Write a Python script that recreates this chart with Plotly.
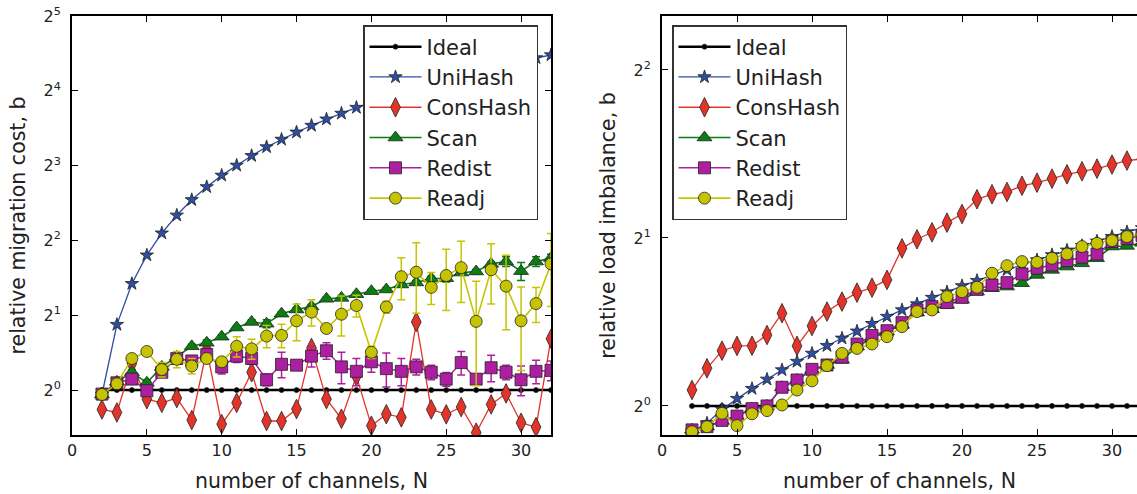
import plotly.graph_objects as go

# ---------------- data ----------------
N = list(range(2, 33))

# left panel: relative migration cost
mig_ideal = [1.0] * 31
mig_unihash = [0.96, 1.835, 2.68, 3.49, 4.28, 5.05, 5.83, 6.57, 7.31, 8.02, 8.77, 9.51, 10.2, 10.9, 11.6,
               12.3, 12.98, 13.7, 14.4, 15.1, 15.8, 16.5, 17.2, 17.9, 18.5, 19.2, 19.9, 20.5, 21.1, 21.7, 22.3]
mig_conshash = [0.836, 0.813, 1.28, 0.92, 0.889, 0.929, 0.758, 1.45, 0.73, 0.889, 1.18, 0.751, 0.751, 0.839,
                1.478, 0.92, 0.767, 1.138, 0.719, 0.80, 0.777, 1.88, 0.836, 0.799, 0.855, 0.674, 0.876, 0.97,
                0.739, 0.71, 1.61]
mig_scan = [0.96, 1.08, 1.18, 1.07, 1.24, 1.36, 1.50, 1.55, 1.64, 1.785, 1.88, 1.85, 2.03, 2.11, 2.17, 2.33,
            2.35, 2.43, 2.50, 2.54, 2.66, 2.71, 2.81, 2.82, 2.97, 3.00, 3.22, 3.29, 3.01, 3.29, 3.40]
mig_scan_err = [0.01, 0.02, 0.03, 0.03, 0.03, 0.04, 0.03, 0.04, 0.03, 0.03, 0.04, 0.07, 0.03, 0.04, 0.04, 0.04,
                0.05, 0.04, 0.04, 0.04, 0.05, 0.05, 0.06, 0.10, 0.05, 0.06, 0.06, 0.15, 0.25, 0.15, 0.12]
mig_redist = [0.964, 1.07, 1.107, 0.994, 1.18, 1.34, 1.31, 1.39, 1.24, 1.37, 1.34, 1.10, 1.27, 1.26, 1.37, 1.44,
              1.24, 1.19, 1.30, 1.22, 1.19, 1.24, 1.18, 1.107, 1.29, 1.107, 1.23, 1.18, 1.10, 1.19, 1.20]
mig_redist_err = [0.02, 0.03, 0.04, 0.03, 0.05, 0.05, 0.06, 0.08, 0.08, 0.08, 0.07, 0.06, 0.15, 0.04, 0.13, 0.11,
                  0.18, 0.15, 0.12, 0.19, 0.15, 0.09, 0.08, 0.07, 0.14, 0.05, 0.15, 0.08, 0.15, 0.13, 0.11]
mig_readj = [0.96, 1.06, 1.34, 1.43, 1.21, 1.33, 1.25, 1.34, 1.30, 1.50, 1.465, 1.65, 1.66, 1.90, 2.06, 1.77,
             2.02, 2.19, 1.42, 2.16, 2.86, 2.98, 2.59, 2.89, 3.11, 1.89, 3.05, 2.62, 1.90, 2.23, 3.22]
mig_readj_err = [0.01, 0.02, 0.03, 0.03, 0.08, 0.10, 0.09, 0.05, 0.05, 0.14, 0.135, 0.17, 0.18, 0.32, 0.25, 0.05,
                 0.37, 0.22, 0.08, 0.12, 0.55, 0.94, 0.38, 0.80, 0.86, 0.85, 0.83, 0.87, 0.70, 0.36, 1.05]

# right panel: relative load imbalance
imb_ideal = [1.0] * 31
imb_unihash = [0.90, 0.931, 0.986, 1.031, 1.074, 1.116, 1.16, 1.201, 1.242, 1.282, 1.322, 1.361, 1.404, 1.446,
               1.486, 1.523, 1.564, 1.60, 1.641, 1.677, 1.712, 1.753, 1.791, 1.826, 1.865, 1.901, 1.937, 1.973,
               2.011, 2.05, 2.085]
imb_conshash = [1.068, 1.168, 1.256, 1.281, 1.282, 1.34, 1.466, 1.281, 1.391, 1.476, 1.538, 1.596, 1.629, 1.682,
                1.916, 1.989, 2.047, 2.13, 2.208, 2.346, 2.395, 2.418, 2.48, 2.512, 2.554, 2.60, 2.633, 2.662,
                2.707, 2.752, 2.77]
imb_scan = [0.906, 0.918, 0.94, 0.958, 0.988, 1.0, 1.08, 1.113, 1.16, 1.184, 1.209, 1.277, 1.322, 1.359, 1.397,
            1.47, 1.49, 1.517, 1.549, 1.602, 1.625, 1.636, 1.659, 1.717, 1.753, 1.777, 1.801, 1.839, 1.93, 1.935,
            1.96]
imb_redist = [0.906, 0.918, 0.942, 0.959, 0.989, 1.0, 1.08, 1.113, 1.163, 1.184, 1.223, 1.291, 1.337, 1.364,
              1.41, 1.486, 1.506, 1.532, 1.566, 1.618, 1.647, 1.663, 1.724, 1.765, 1.789, 1.821, 1.847, 1.872,
              1.97, 1.994, 2.02]
imb_readj = [0.899, 0.918, 0.97, 0.922, 0.968, 0.981, 1.004, 1.068, 1.109, 1.181, 1.242, 1.268, 1.291, 1.331,
             1.387, 1.476, 1.486, 1.57, 1.602, 1.632, 1.729, 1.784, 1.814, 1.809, 1.839, 1.872, 1.93, 1.956,
             1.978, 2.011, 2.03]

x_ticks = [0, 5, 10, 15, 20, 25, 30]
left_yticks = [1, 2, 4, 8, 16, 32]
left_yticktext = ["2<sup>0</sup>", "2<sup>1</sup>", "2<sup>2</sup>", "2<sup>3</sup>", "2<sup>4</sup>", "2<sup>5</sup>"]
right_yticks = [1, 2, 4]
right_yticktext = ["2<sup>0</sup>", "2<sup>1</sup>", "2<sup>2</sup>"]

# ---------------- styles ----------------
FONT = "DejaVu Sans"
styles = {
    "Ideal":    dict(color="#000000", symbol="circle", size=5, lw=2.5),
    "UniHash":  dict(color="#2e4ea3", symbol="star", size=10, lw=1.3),
    "ConsHash": dict(color="#e3342a", symbol="diamond-tall", size=14, lw=1.3),
    "Scan":     dict(color="#0b7d12", symbol="triangle-up", size=13, lw=1.6),
    "Redist":   dict(color="#ad1fa0", symbol="square", size=12, lw=1.5),
    "Readj":    dict(color="#c6c400", symbol="circle", size=12, lw=1.6),
}

fig = go.Figure()


def add(name, x, y, err, xa, ya, legend, show):
    s = styles[name]
    kw = {}
    if err is not None:
        kw["error_y"] = dict(type="data", array=err, visible=True, color=s["color"],
                             thickness=1.5, width=4)
    fig.add_trace(go.Scatter(
        x=x, y=y, name=name, mode="lines+markers",
        line=dict(color=s["color"], width=s["lw"]),
        marker=dict(symbol=s["symbol"], size=s["size"], color=s["color"],
                    line=dict(color="#222222", width=0.8)),
        xaxis=xa, yaxis=ya, legend=legend, legendgroup=legend + name, showlegend=show,
        **kw))


left = [("Ideal", mig_ideal, None), ("UniHash", mig_unihash, None), ("ConsHash", mig_conshash, None),
        ("Scan", mig_scan, mig_scan_err), ("Redist", mig_redist, mig_redist_err),
        ("Readj", mig_readj, mig_readj_err)]
right = [("Ideal", imb_ideal, None), ("UniHash", imb_unihash, None), ("ConsHash", imb_conshash, None),
         ("Scan", imb_scan, None), ("Redist", imb_redist, None), ("Readj", imb_readj, None)]

for name, y, e in left:
    add(name, N, y, e, "x", "y", "legend", True)
for name, y, e in right:
    add(name, N, y, e, "x2", "y2", "legend2", True)

W, H = 1137, 494
ML, MR, MT, MB = 72, 0, 16, 59
PW = W - ML - MR
PH = H - MT - MB
left_dom = [0, (551 - ML) / PW]
right_dom = [(662 - ML) / PW, 1.0]

LOG2 = 0.30103
axis_common = dict(showline=True, linecolor="black", linewidth=2, ticks="inside", ticklen=6,
                   tickwidth=1.3, tickcolor="black", showgrid=False, zeroline=False,
                   tickfont=dict(family=FONT, size=16, color="#222222"))
TF = dict(family=FONT, size=20.5, color="#222222")

legend_common = dict(xanchor="left", yanchor="top", bgcolor="white", bordercolor="#333333",
                     borderwidth=1.5, tracegroupgap=0, itemwidth=52,
                     font=dict(family=FONT, size=21, color="#222222"))

fig.update_layout(
    width=W, height=H, margin=dict(l=ML, r=MR, t=MT, b=MB),
    paper_bgcolor="white", plot_bgcolor="white",
    font=dict(family=FONT, size=20, color="#222222"),
    xaxis=dict(domain=left_dom, range=[0, 32], tickvals=x_ticks, mirror="ticks", anchor="y",
               title=dict(text="number of channels, N", font=TF, standoff=14), **axis_common),
    yaxis=dict(domain=[0, 1], type="log", range=[-0.6 * LOG2, 5 * LOG2], tickvals=left_yticks,
               ticktext=left_yticktext, mirror="ticks", anchor="x", ticklabelstandoff=6,
               title=dict(text="relative migration cost, b", font=TF, standoff=12), **axis_common),
    xaxis2=dict(domain=right_dom, range=[0, 31.667], tickvals=x_ticks, mirror="ticks", anchor="y2",
                title=dict(text="number of channels, N", font=TF, standoff=14), **axis_common),
    yaxis2=dict(domain=[0, 1], type="log", range=[-0.173 * LOG2, 2.321 * LOG2], tickvals=right_yticks,
                ticktext=right_yticktext, mirror=False, anchor="x2", ticklabelstandoff=6,
                title=dict(text="relative load imbalance, b", font=TF, standoff=12), **axis_common),
    legend=dict(x=(363 - ML) / PW, y=(435 - 25) / PH, **legend_common),
    legend2=dict(x=(672 - ML) / PW, y=(435 - 25) / PH, **legend_common),
)

fig.write_html("out.html")
